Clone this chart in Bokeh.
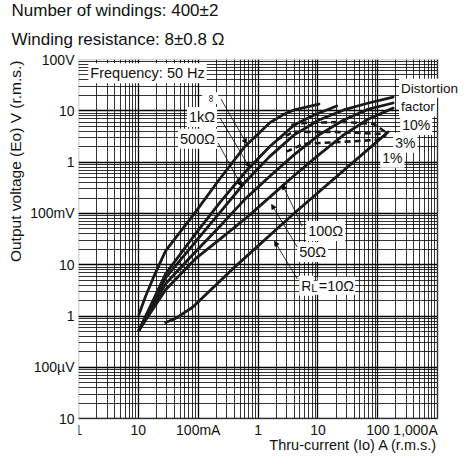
from bokeh.plotting import figure
from bokeh.models import FixedTicker, Label, Arrow, NormalHead, BoxAnnotation, Title
from bokeh.embed import file_html
from bokeh.resources import INLINE
import math

FONT = "Liberation Sans"

# ---------------- data: thru-current (A) -> output voltage (V) ----------------
i_inf = [0.0102, 0.0133, 0.018, 0.0285, 0.0891, 0.231, 0.598, 1.55, 2.74, 4.01, 10.4]
v_inf = [0.00107, 0.0025, 0.0058, 0.0186, 0.105, 0.48, 2.0, 5.81, 8.67, 10.4, 13.5]

i_1k = [0.0102, 0.0285, 0.0891, 0.231, 0.598, 1.55, 4.01, 8.59, 20.6]
v_1k = [0.000526, 0.00667, 0.0396, 0.165, 0.627, 2.0, 5.31, 8.29, 12.4]

i_500 = [0.0102, 0.0285, 0.0891, 0.231, 0.598, 1.55, 4.01, 10.4, 26.9, 69.7, 180]
v_500 = [0.000526, 0.00558, 0.0277, 0.105, 0.401, 1.28, 3.40, 6.64, 10.4, 14.2, 18.5]

i_100 = [0.0102, 0.0285, 0.0891, 0.231, 0.598, 1.55, 4.01, 10.4, 26.9, 69.7, 180]
v_100 = [0.000526, 0.00428, 0.0178, 0.0565, 0.188, 0.525, 1.40, 3.40, 6.64, 10.8, 14.2]

i_50 = [0.0102, 0.0285, 0.0891, 0.231, 0.598, 1.55, 4.01, 10.4, 26.9, 69.7, 180]
v_50 = [0.000526, 0.00327, 0.0130, 0.0317, 0.0773, 0.206, 0.548, 1.40, 3.40, 6.94, 11.3]

i_10 = [0.0285, 0.0417, 0.0796, 0.409, 4.01, 149]
v_10 = [0.00075, 0.0009, 0.00147, 0.0091, 0.101, 3.89]

# distortion factor lines
i_d10 = [3.58, 5.87, 26.9, 84.3, 133]
v_d10 = [5.31, 5.81, 6.07, 5.56, 3.89]
i_d3 = [2.02, 4.01, 18.4, 102, 138]
v_d3 = [2.72, 3.89, 3.89, 3.56, 3.72]
i_d1 = [2.96, 5.87, 26.9, 102, 138]
v_d1 = [1.60, 2.28, 2.49, 2.72, 3.40]

x_decades = [1e-3, 1e-2, 1e-1, 1, 10, 100, 1000]
y_decades = [1e-5, 1e-4, 1e-3, 1e-2, 1e-1, 1, 10, 100]
x_tick_labels = ["1", "10", "100mA", "1", "10", "100", "1,000A"]
y_tick_labels = ["10", "100µV", "1", "10", "100mV", "1", "10", "100V"]

X_MIN, X_MAX = 1e-3, 1e3
Y_MIN, Y_MAX = 1e-5, 1e2
# the plotting frame runs on past the chart (right and below) so that the side
# notes, the current tick labels and the axis title can sit there unclipped
X_VIEW_END = 2223
Y_VIEW_START = 2.01e-6
Y_TICK_ROW = 6.12e-6      # vertical place of the current tick labels
Y_TITLE_ROW = 3.14e-6     # vertical place of the current axis title

# ---------------- figure ----------------
p = figure(width=458, height=454, x_axis_type="log", y_axis_type="log",
           x_range=(X_MIN, X_VIEW_END), y_range=(Y_VIEW_START, Y_MAX),
           output_backend="svg", toolbar_location=None, title=None,
           min_border_left=74, min_border_right=0, min_border_top=56,
           min_border_bottom=0)
p.background_fill_color = "white"
p.border_fill_color = "white"
p.outline_line_color = None
p.xaxis.visible = False

x_minor = [m * d for d in x_decades[:-1] for m in range(2, 10)]
y_minor = [m * d for d in y_decades[:-1] for m in range(2, 10)]

p.xgrid.ticker = FixedTicker(ticks=x_decades, minor_ticks=x_minor)
p.ygrid.ticker = FixedTicker(ticks=y_decades, minor_ticks=y_minor)
for g in (p.xgrid, p.ygrid):
    g.grid_line_color = "black"
    g.grid_line_width = 1.3
    g.grid_line_alpha = 1.0
    g.minor_grid_line_color = "black"
    g.minor_grid_line_width = 1.0
    g.minor_grid_line_alpha = 0.8

yax = p.yaxis[0]
yax.ticker = FixedTicker(ticks=y_decades)
yax.bounds = (Y_MIN, Y_MAX)
yax.major_label_overrides = {t: s for t, s in zip(y_decades, y_tick_labels)}
yax.axis_label = None
yax.axis_label_standoff = 0
yax.axis_line_color = None
yax.major_tick_line_color = None
yax.minor_tick_line_color = None
yax.major_tick_out = 0
yax.major_tick_in = 0
yax.minor_tick_out = 0
yax.minor_tick_in = 0
yax.major_label_text_font = FONT
yax.major_label_text_font_size = "14px"
yax.major_label_text_color = "#111111"
yax.major_label_standoff = 4

def title(text, side, align, offset, size, standoff, valign="bottom"):
    p.add_layout(Title(text=text, align=align, offset=offset, text_font=FONT,
                       text_font_size=size, text_font_style="normal",
                       text_color="#111111", standoff=standoff,
                       vertical_align=valign), side)

# headings (the later one sits further from the chart)
title("Winding resistance: 8±0.8 Ω", "above", "left", -67, "17px", 17, "top")
title("Number of windings: 400±2", "above", "left", -67, "17px", 0, "top")
title("Output voltage (Eo) V (r.m.s.)", "left", "right", 1, "15.5px", 8)

# ---------------- curves ----------------
for xs, ys in [(i_inf, v_inf), (i_1k, v_1k), (i_500, v_500),
               (i_100, v_100), (i_50, v_50), (i_10, v_10)]:
    p.line(xs, ys, line_color="#1a1a1a", line_width=2.8, line_cap="round", line_join="round")

for xs, ys in [(i_d10, v_d10), (i_d3, v_d3), (i_d1, v_d1)]:
    p.line(xs, ys, line_color="#1a1a1a", line_width=2.6, line_dash="6 4")

# blank out the grid outside the chart and draw the chart border
p.add_layout(BoxAnnotation(left=X_MAX, fill_color="white", fill_alpha=1.0, line_color=None))
p.add_layout(BoxAnnotation(top=Y_MIN, fill_color="white", fill_alpha=1.0, line_color=None))
p.add_layout(BoxAnnotation(left=X_MIN, right=X_MAX, bottom=Y_MIN, top=Y_MAX,
                           fill_color=None, fill_alpha=0, line_color="black", line_width=1.6))

# ---------------- annotations ----------------
def lab(text, x, y, align="left", size="14.5px", bg=True, angle=0.0, baseline="middle",
        xo=0, yo=0, pad=2):
    kw = dict(x=x, y=y, text=text, text_font=FONT, text_font_size=size,
              text_align=align, text_baseline=baseline, text_color="#111111",
              angle=angle, x_offset=xo, y_offset=yo)
    if bg:
        kw.update(background_fill_color="white", padding=pad)
    p.add_layout(Label(**kw))

# current-axis tick labels and title
for k, (t, s) in enumerate(zip(x_decades, x_tick_labels)):
    last = k == len(x_decades) - 1
    lab(s, t, Y_TICK_ROW, align="right" if last else "center", size="14px", bg=False)
lab("Thru-current (Io) A (r.m.s.)", X_MAX, Y_TITLE_ROW, align="right", size="14.5px", bg=False)

lab("Frequency: 50 Hz", 0.00146, 54, size="14.5px")
lab("∞", 0.158, 17.7, align="center", size="11px", angle=math.pi / 2)
lab("1kΩ", 0.206, 7.59, align="right")
lab("500Ω", 0.206, 2.85, align="right")
lab("100Ω", 6.34, 0.0453)
lab("50Ω", 4.50, 0.0178)
lab("R", 4.85, 0.00391)
lab("L", 4.85, 0.00391, size="11px", xo=11, yo=-2, pad=1)
lab("=10Ω", 4.85, 0.00391, xo=18.5, pad=1)
lab("Distortion", 226, 27.6, size="13.5px")
lab("factor", 226, 11.9, size="13.5px")
lab("10%", 236, 5.31, size="14px")
lab("3%", 180, 2.38, size="14px")
lab("1%", 110, 1.22, size="14px")

# leader lines with small arrow heads
leaders = [((0.240, 16.9), (0.646, 2.28)),
           ((0.231, 7.26), (0.725, 0.784)),
           ((0.214, 2.38), (0.533, 0.336)),
           ((5.44, 0.0565), (2.54, 0.367)),
           ((4.50, 0.0222), (1.67, 0.151)),
           ((4.50, 0.00533), (1.87, 0.029))]
for (x0, y0), (x1, y1) in leaders:
    p.add_layout(Arrow(end=NormalHead(size=5, fill_color="black", line_color="black", line_width=0.5),
                       x_start=x0, y_start=y0, x_end=x1, y_end=y1,
                       line_color="black", line_width=0.8))

open("out.html", "w").write(file_html(p, INLINE))
